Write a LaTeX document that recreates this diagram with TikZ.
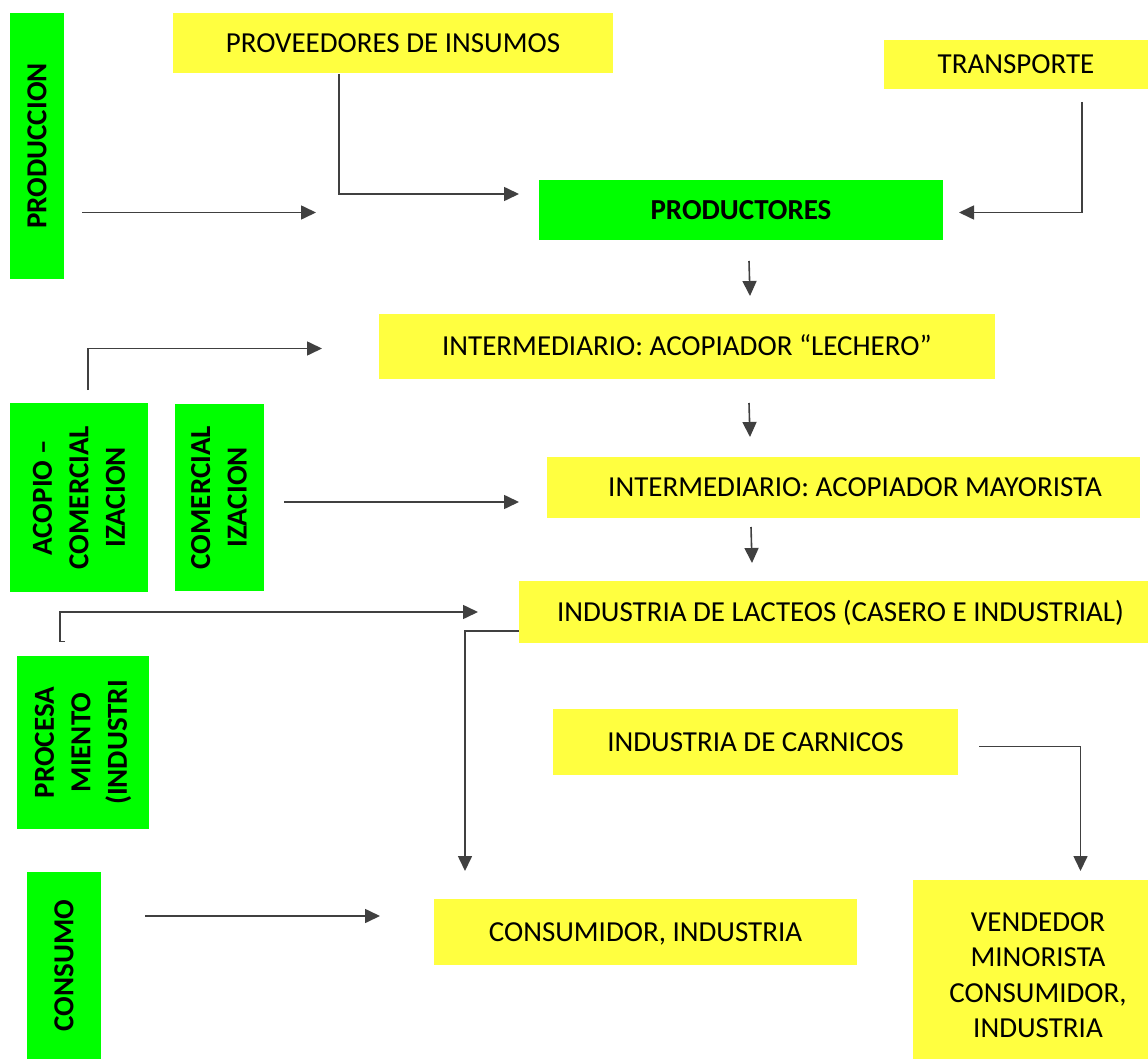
\documentclass[tikz,border=0pt]{standalone}
\usepackage{fontspec}
\setmainfont{Carlito}
\usetikzlibrary{arrows.meta}
\definecolor{lgreen}{RGB}{0,255,0}
\definecolor{lyellow}{RGB}{255,255,64}
\definecolor{lgray}{RGB}{64,64,64}
\tikzset{
  base/.style={inner sep=0pt, outer sep=0pt, draw=none, align=center, font=\fontsize{29}{36}\selectfont},
  gbox/.style={base, fill=lgreen, font=\fontsize{29}{36.5}\selectfont\bfseries},
  ybox/.style={base, fill=lyellow},
  one/.style={text height=18.6pt, text depth=0pt},
  txt/.style={base},
  conn/.style={draw=lgray, line width=1.6pt, -{Triangle[length=15pt,width=14pt]}},
}
\begin{document}
\begin{tikzpicture}[x=1pt,y=-1pt]
\useasboundingbox (0,0) rectangle (1148,1059);
% green category boxes
\node[gbox, one, rotate=90, minimum width=266, minimum height=54] (prod) at (37,146) {PRODUCCION};
\node[gbox, rotate=90, minimum width=189, minimum height=138] (acop) at (79,497.5) {ACOPIO –\\COMERCIAL\\IZACION};
\node[gbox, rotate=90, minimum width=187, minimum height=89] (comer) at (219,497.5) {COMERCIAL\\IZACION};
\node[gbox, rotate=90, minimum width=173, minimum height=132] (proc) at (83,742.5) {PROCESA\\MIENTO\\(INDUSTRI};
\node[gbox, one, rotate=90, minimum width=187, minimum height=74] (cons) at (64,965.5) {CONSUMO};
% chain boxes
\node[ybox, one, minimum width=440, minimum height=60] (prov) at (393,43) {PROVEEDORES DE INSUMOS};
\node[ybox, one, minimum width=264, minimum height=49] (trans) at (1016,64.5) {TRANSPORTE};
\node[gbox, one, minimum width=404, minimum height=60] (prodres) at (741,210) {PRODUCTORES};
\node[ybox, one, minimum width=616, minimum height=65] (lech) at (687,346.5) {INTERMEDIARIO: ACOPIADOR “LECHERO”};
\node[ybox, minimum width=593, minimum height=61] (mayo) at (843.5,487.5) {};
\node[txt, one] (mayot) at (855,487.5) {INTERMEDIARIO: ACOPIADOR MAYORISTA};
\node[ybox, minimum width=629, minimum height=62] (lact) at (833.5,612) {};
\node[txt, one] (lactt) at (840.5,612) {INDUSTRIA DE LACTEOS (CASERO E INDUSTRIAL)};
\node[ybox, one, minimum width=405, minimum height=66] (carn) at (755.5,742) {INDUSTRIA DE CARNICOS};
\node[ybox, one, minimum width=423, minimum height=66] (consum) at (645.5,932) {CONSUMIDOR, INDUSTRIA};
\node[ybox, minimum width=235, minimum height=179] (vend) at (1030.5,969.5) {};
\node[txt, font=\fontsize{29}{35.5}\selectfont] (vendt) at (1038,975) {VENDEDOR\\MINORISTA\\CONSUMIDOR,\\INDUSTRIA};
% connector end points
\coordinate (a1) at (82,212.5);   \coordinate (b1) at (316,212.5);
\coordinate (a2) at (339,74);     \coordinate (b2) at (519,194);
\coordinate (a3) at (1082,102);   \coordinate (b3) at (959,212.5);
\coordinate (a4) at (749,261);    \coordinate (b4) at (750,296);
\coordinate (a5) at (749,403);    \coordinate (b5) at (750,437);
\coordinate (a6) at (751,527);    \coordinate (b6) at (752,563);
\coordinate (a7) at (88,390);     \coordinate (b7) at (322,348.5);
\coordinate (a8) at (284,502);    \coordinate (b8) at (519,502);
\coordinate (a9) at (65,641.5);   \coordinate (m9) at (60,641.5); \coordinate (b9) at (478,612);
\coordinate (a10) at (519,631);   \coordinate (b10) at (465,871);
\coordinate (a11) at (979,746.5); \coordinate (b11) at (1080.5,871);
\coordinate (a12) at (145,916);   \coordinate (b12) at (380,916);
% connectors
\draw[conn] (a1) -- (b1);
\draw[conn] (a2) |- (b2);
\draw[conn] (a3) |- (b3);
\draw[conn] (a4) -- (b4);
\draw[conn] (a5) -- (b5);
\draw[conn] (a6) -- (b6);
\draw[conn] (a7) |- (b7);
\draw[conn] (a8) -- (b8);
\draw[conn] (a9) -- (m9) |- (b9);
\draw[conn] (a10) -| (b10);
\draw[conn] (a11) -| (b11);
\draw[conn] (a12) -- (b12);
\end{tikzpicture}
\end{document}
